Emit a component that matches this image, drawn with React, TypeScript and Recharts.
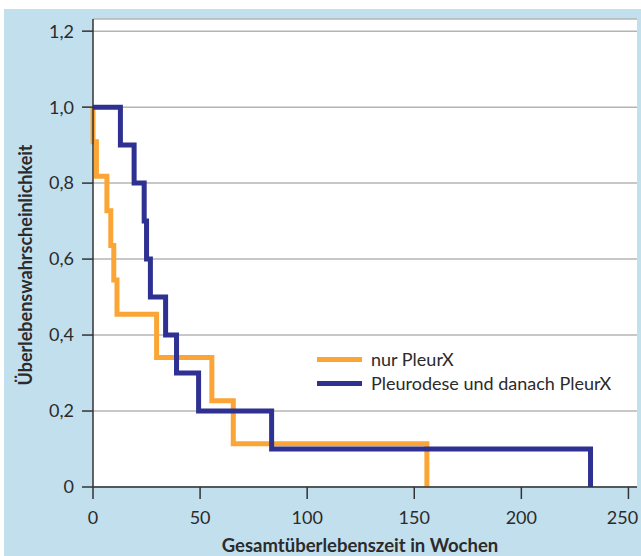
import { CartesianGrid, Line, LineChart, XAxis, YAxis } from "recharts"

// Kaplan-Meier curves (weeks, survival probability)
const nurPleurxWeeks = [0, 0, 1.6, 6.5, 8.3, 9.7, 11.2, 29.7, 55.5, 65.5, 155.9]
const nurPleurxSurvival = [1.0, 0.909, 0.818, 0.727, 0.636, 0.545, 0.455, 0.341, 0.227, 0.114, 0]

const pleurodeseWeeks = [0, 12.8, 19.2, 23.9, 25.0, 26.8, 33.9, 39.0, 49.3, 83.4, 232.3]
const pleurodeseSurvival = [1.0, 0.9, 0.8, 0.7, 0.6, 0.5, 0.4, 0.3, 0.2, 0.1, 0]

const xTicks = [0, 50, 100, 150, 200, 250]
const yTicks = [0, 0.2, 0.4, 0.6, 0.8, 1.0, 1.2]

const seriesNames = ["nur PleurX", "Pleurodese und danach PleurX"]

const COLORS = {
  orange: "#FBA536",
  blue: "#2E3192",
  bg: "#C2DFEE",
  text: "#2b2b2b",
  grid: "#b4b4b4",
  axis: "#333333",
}

const FONT = "Lato, 'Open Sans', sans-serif"

const toPoints = (weeks: number[], survival: number[]) =>
  weeks.map((t, i) => ({ t, v: survival[i] }))

const nurPleurx = toPoints(nurPleurxWeeks, nurPleurxSurvival)
const pleurodese = toPoints(pleurodeseWeeks, pleurodeseSurvival)

const formatGerman = (value: number) => (value === 0 ? "0" : value.toFixed(1).replace(".", ","))

// last label sits a bit left of its tick so it stays inside the frame
const XTick = (props: any) => {
  const { x, y, payload } = props
  const isLast = payload.value === xTicks[xTicks.length - 1]
  return (
    <text
      x={isLast ? x - 6 : x}
      y={y + 16}
      textAnchor="middle"
      fontFamily={FONT}
      fontSize={18}
      fill={COLORS.text}
    >
      {payload.value}
    </text>
  )
}

const YTitle = () => (
  <text
    x={25}
    y={265}
    transform="rotate(-90 25 265)"
    textAnchor="middle"
    dominantBaseline="central"
    fontFamily={FONT}
    fontWeight={700}
    fontSize={18}
    fill={COLORS.text}
  >
    Überlebenswahrscheinlichkeit
  </text>
)

const XTitle = () => (
  <text
    x={360}
    y={545}
    textAnchor="middle"
    dominantBaseline="central"
    fontFamily={FONT}
    fontWeight={700}
    fontSize={18.5}
    fill={COLORS.text}
  >
    Gesamtüberlebenszeit in Wochen
  </text>
)

const LegendBox = () => (
  <div
    style={{
      position: "absolute",
      left: 317,
      top: 347,
      fontFamily: FONT,
      fontSize: 18,
      color: COLORS.text,
      lineHeight: "24px",
    }}
  >
    {seriesNames.map((name, i) => (
      <div key={name} style={{ display: "flex", alignItems: "center", whiteSpace: "nowrap" }}>
        <span
          style={{
            display: "inline-block",
            width: 45,
            height: 5,
            background: i === 0 ? COLORS.orange : COLORS.blue,
            marginRight: 9,
          }}
        />
        <span>{name}</span>
      </div>
    ))}
  </div>
)

export default function App() {
  return (
    <div style={{ position: "relative", width: 641, height: 556, background: "#fff", overflow: "hidden" }}>
      <style>{`body{margin:0}`}</style>
      <div style={{ position: "absolute", left: 4, top: 9, width: 637, height: 547, background: COLORS.bg }} />
      <div style={{ position: "absolute", left: 0, top: 0 }}>
        <LineChart width={641} height={556} margin={{ top: 19, right: 4, left: 0, bottom: 0 }}>
          <CartesianGrid vertical={false} stroke={COLORS.grid} strokeWidth={1.5} fill="#fff" fillOpacity={1} />
          <XAxis
            type="number"
            dataKey="t"
            domain={[0, 254]}
            ticks={xTicks}
            height={69}
            tickSize={12}
            tickMargin={9}
            interval={0}
            allowDuplicatedCategory={false}
            axisLine={{ stroke: COLORS.axis, strokeWidth: 1.5 }}
            tickLine={{ stroke: COLORS.axis, strokeWidth: 1.5 }}
            tick={<XTick />}
            label={<XTitle />}
          />
          <YAxis
            type="number"
            domain={[0, 1.232]}
            ticks={yTicks}
            width={93}
            tickSize={11}
            tickMargin={8}
            interval={0}
            tickFormatter={formatGerman}
            axisLine={{ stroke: COLORS.axis, strokeWidth: 1.5 }}
            tickLine={{ stroke: COLORS.axis, strokeWidth: 1.5 }}
            tick={{ fill: COLORS.text, fontSize: 18, fontFamily: FONT }}
            label={<YTitle />}
          />
          <Line
            data={nurPleurx}
            dataKey="v"
            name={seriesNames[0]}
            type="stepAfter"
            stroke={COLORS.orange}
            strokeWidth={5}
            dot={false}
            activeDot={false}
            isAnimationActive={false}
          />
          <Line
            data={pleurodese}
            dataKey="v"
            name={seriesNames[1]}
            type="stepAfter"
            stroke={COLORS.blue}
            strokeWidth={5}
            dot={false}
            activeDot={false}
            isAnimationActive={false}
          />
        </LineChart>
      </div>
      <LegendBox />
    </div>
  )
}
